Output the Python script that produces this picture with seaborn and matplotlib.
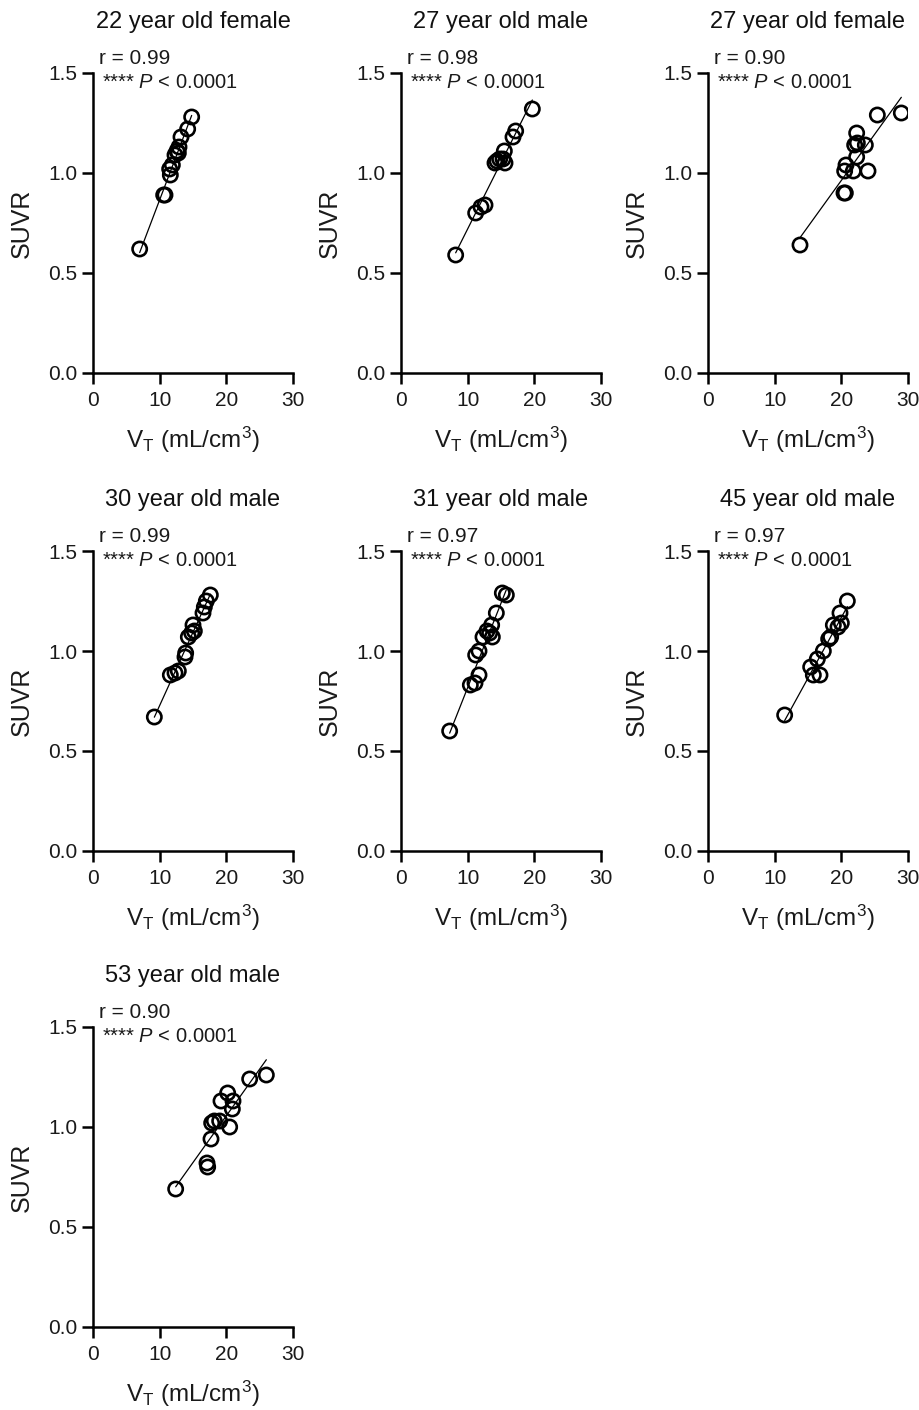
import matplotlib
matplotlib.use("Agg")
import matplotlib.pyplot as plt
import seaborn as sns
import numpy as np

# ---------------- data ----------------
titles = ["22 year old female", "27 year old male", "27 year old female",
          "30 year old male", "31 year old male", "45 year old male",
          "53 year old male"]
r_labels = ["r = 0.99", "r = 0.98", "r = 0.90", "r = 0.99", "r = 0.97", "r = 0.97", "r = 0.90"]
p_label = "**** $P$ < 0.0001"

vt_22f = [7.0, 10.6, 10.8, 11.6, 11.5, 11.9, 12.3, 12.6, 12.9, 12.8, 13.2, 14.2, 14.8]
suvr_22f = [0.62, 0.89, 0.89, 0.99, 1.02, 1.04, 1.09, 1.11, 1.13, 1.10, 1.18, 1.22, 1.28]

vt_27m = [8.2, 11.2, 12.0, 12.6, 14.1, 14.4, 14.8, 15.3, 15.6, 15.5, 16.8, 17.2, 19.7]
suvr_27m = [0.59, 0.80, 0.83, 0.84, 1.05, 1.06, 1.07, 1.07, 1.05, 1.11, 1.18, 1.21, 1.32]

vt_27f = [13.8, 20.4, 20.6, 20.5, 20.7, 21.8, 22.3, 22.0, 22.4, 22.3, 23.6, 24.0, 25.4, 29.0]
suvr_27f = [0.64, 0.90, 0.90, 1.01, 1.04, 1.01, 1.08, 1.14, 1.15, 1.20, 1.14, 1.01, 1.29, 1.30]

vt_30m = [9.2, 11.6, 12.3, 12.8, 13.8, 13.9, 14.3, 14.8, 15.2, 15.0, 16.5, 16.7, 17.0, 17.6]
suvr_30m = [0.67, 0.88, 0.89, 0.90, 0.97, 0.99, 1.07, 1.09, 1.10, 1.13, 1.19, 1.22, 1.25, 1.28]

vt_31m = [7.3, 10.4, 11.1, 11.7, 11.2, 11.7, 12.3, 12.9, 13.3, 13.7, 13.6, 14.3, 15.2, 15.8]
suvr_31m = [0.60, 0.83, 0.84, 0.88, 0.98, 1.00, 1.07, 1.10, 1.09, 1.07, 1.13, 1.19, 1.29, 1.28]

vt_45m = [11.5, 15.4, 15.8, 16.8, 16.4, 17.3, 18.1, 18.4, 18.8, 19.5, 20.0, 19.8, 20.9]
suvr_45m = [0.68, 0.92, 0.88, 0.88, 0.96, 1.00, 1.06, 1.07, 1.13, 1.12, 1.14, 1.19, 1.25]

vt_53m = [12.4, 17.1, 17.2, 17.7, 17.8, 18.2, 19.0, 20.5, 19.2, 20.2, 21.0, 20.9, 23.5, 26.0]
suvr_53m = [0.69, 0.82, 0.80, 0.94, 1.02, 1.03, 1.03, 1.00, 1.13, 1.17, 1.13, 1.09, 1.24, 1.26]

vt_sets = [vt_22f, vt_27m, vt_27f, vt_30m, vt_31m, vt_45m, vt_53m]
suvr_sets = [suvr_22f, suvr_27m, suvr_27f, suvr_30m, suvr_31m, suvr_45m, suvr_53m]

x_ticks = [0, 10, 20, 30]
y_ticks = [0.0, 0.5, 1.0, 1.5]
y_ticklabels = ["0.0", "0.5", "1.0", "1.5"]

# ---------------- style ----------------
sns.set_theme(style="ticks")
plt.rcParams["font.family"] = ["Liberation Sans", "DejaVu Sans"]
plt.rcParams["mathtext.fontset"] = "custom"
plt.rcParams["mathtext.rm"] = "Liberation Sans"
plt.rcParams["mathtext.it"] = "Liberation Sans:italic"
plt.rcParams["mathtext.bf"] = "Liberation Sans:bold"

fig = plt.figure(figsize=(9.2, 14.1), dpi=100)
W, H = 920, 1410
col_left = [93, 401, 708]
row_top = [73, 551, 1027]
ax_w, ax_h = 200, 300
txt = "#1a1a1a"

for i, (vt, suvr) in enumerate(zip(vt_sets, suvr_sets)):
    r, c = divmod(i, 3)
    l = col_left[c]
    t = row_top[r]
    ax = fig.add_axes([l / W, 1 - (t + ax_h) / H, ax_w / W, ax_h / H])
    sns.regplot(x=np.array(vt), y=np.array(suvr), ax=ax, ci=None, truncate=True,
                color="black",
                scatter_kws=dict(s=105, facecolors="none", edgecolors="black",
                                 linewidths=1.9, alpha=1, zorder=3),
                line_kws=dict(color="black", lw=0.9, zorder=2))
    ax.set_xlim(0, 30)
    ax.set_ylim(0, 1.5)
    ax.set_xticks(x_ticks)
    ax.set_yticks(y_ticks)
    ax.set_yticklabels(y_ticklabels)
    for side in ["top", "right"]:
        ax.spines[side].set_visible(False)
    for side in ["left", "bottom"]:
        ax.spines[side].set_linewidth(1.8)
        ax.spines[side].set_color("black")
    ax.tick_params(axis="both", length=8, width=1.8, color="black",
                   labelsize=15, labelcolor=txt)
    ax.tick_params(axis="x", pad=5)
    ax.tick_params(axis="y", pad=3)
    ax.set_xlabel(r"V$_\mathrm{T}$ (mL/cm$^3$)", fontsize=17.5, color=txt)
    ax.xaxis.set_label_coords(0.5, -0.172)
    ax.set_ylabel("SUVR", fontsize=18, color=txt)
    ax.yaxis.set_label_coords(-0.295, 0.5)
    ax.text(0.5, 1.17, titles[i], transform=ax.transAxes, ha="center", va="center",
            fontsize=17, color="#111111")
    ax.text(0.03, 1.05, r_labels[i], transform=ax.transAxes, ha="left", va="center",
            fontsize=15, color=txt)
    ax.text(0.045, 0.97, p_label, transform=ax.transAxes, ha="left", va="center",
            fontsize=14.5, color=txt)

fig.savefig("out.png", dpi=100)
